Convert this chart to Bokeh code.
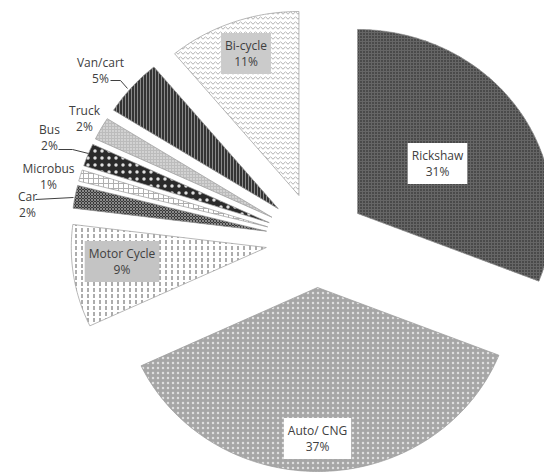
import math
from bokeh.plotting import figure
from bokeh.models import ColumnDataSource, Range1d
from bokeh.core.properties import value
from bokeh.embed import file_html
from bokeh.resources import INLINE

# ---- data ----
categories = ["Rickshaw", "Auto/ CNG", "Motor Cycle", "Car", "Microbus",
              "Bus", "Truck", "Van/cart", "Bi-cycle"]
shares = [31, 37, 9, 2, 1, 2, 2, 5, 11]

# ---- styles (one per slice) ----
fill_colors = ["#4a4a4a", "#a6a6a6", "#ffffff", "#383838", "#ffffff",
               "#2a2a2a", "#bcbcbc", "#343434", "#ffffff"]
hatch_patterns = ["cross", "dot", "vertical_dash", "diagonal_cross", "cross",
                  "dot", "dot", "vertical_line", "horizontal_wave"]
hatch_colors = ["#666666", "#dedede", "#5a5a5a", "#8a8a8a", "#b0b0b0",
                "#e0e0e0", "#f2f2f2", "#8a8a8a", "#b0b0b0"]
hatch_scales = [3, 5, 6, 3, 5, 7, 3, 3, 5]
hatch_weights = [1, 2, 1, 1, 1, 3, 1, 1, 1]

# ---- layout ----
W, H = 544, 474
XSTRETCH = 1.06           # the picture is slightly wider than tall
CX, CY = 297.6, 234.4     # pie centre (data units, y up)
R = 184                   # slice radius (data units)
EXPLODE = 47.4            # explosion distance

label_pos = [(437, 163), (317, 438), (121.5, 261), (27, 204), (48, 176),
             (49, 137), (84, 118), (100, 70), (245.5, 53)]
label_bg = ["#ffffff", "#ffffff", "#c4c4c4", None, None, None, None, None, "#cbcbcb"]
leaders = [
    [(110, 80), (120, 80), (127, 88)],
    [(58, 149), (72, 149), (88, 153)],
    [(35, 199), (73, 197)],
]

total = float(sum(shares))
pxs, pys = [], []
cum = 0.0
for s in shares:
    f0 = cum / total
    f1 = (cum + s) / total
    cum += s
    a0 = math.pi / 2 - 2 * math.pi * f0     # start (12 o'clock, clockwise)
    a1 = math.pi / 2 - 2 * math.pi * f1
    mid = (a0 + a1) / 2
    ax = CX + EXPLODE * math.cos(mid)
    ay = CY + EXPLODE * math.sin(mid)
    n = max(8, int(abs(a0 - a1) / (2 * math.pi) * 400))
    xs = [ax]
    ys = [ay]
    for k in range(n + 1):
        a = a0 + (a1 - a0) * k / n
        xs.append(ax + R * math.cos(a))
        ys.append(ay + R * math.sin(a))
    pxs.append(xs)
    pys.append(ys)

src = ColumnDataSource(dict(
    xs=pxs, ys=pys, fill=fill_colors,
    hp=hatch_patterns, hc=hatch_colors, hs=hatch_scales, hw=hatch_weights,
))

p = figure(width=W, height=H, output_backend="svg", toolbar_location=None,
           x_range=Range1d(0, W / XSTRETCH), y_range=Range1d(0, H),
           x_axis_location=None, y_axis_location=None, min_border=0)
p.grid.visible = False
p.outline_line_color = None
p.background_fill_color = "white"

p.patches(xs="xs", ys="ys", fill_color="fill", hatch_pattern="hp", hatch_color="hc",
          hatch_scale="hs", hatch_weight="hw",
          line_color="#9a9a9a", line_alpha=0.7, line_width=1, source=src)

# leader lines
for pts in leaders:
    p.line([q[0] / XSTRETCH for q in pts], [H - q[1] for q in pts],
           line_color="#404040", line_width=1)

# labels
for cat, sh, (lx, ly), bg in zip(categories, shares, label_pos, label_bg):
    kw = {}
    if bg is not None:
        kw = dict(background_fill_color=bg, padding=4)
    p.text(x=[lx / XSTRETCH], y=[H - ly], text=[f"{cat}\n{sh}%"], text_align="center",
           text_baseline="middle", text_font=value("Open Sans"),
           text_font_size="12px", text_color="#404040", text_line_height=0.95, **kw)

open("out.html", "w").write(file_html(p, INLINE))
